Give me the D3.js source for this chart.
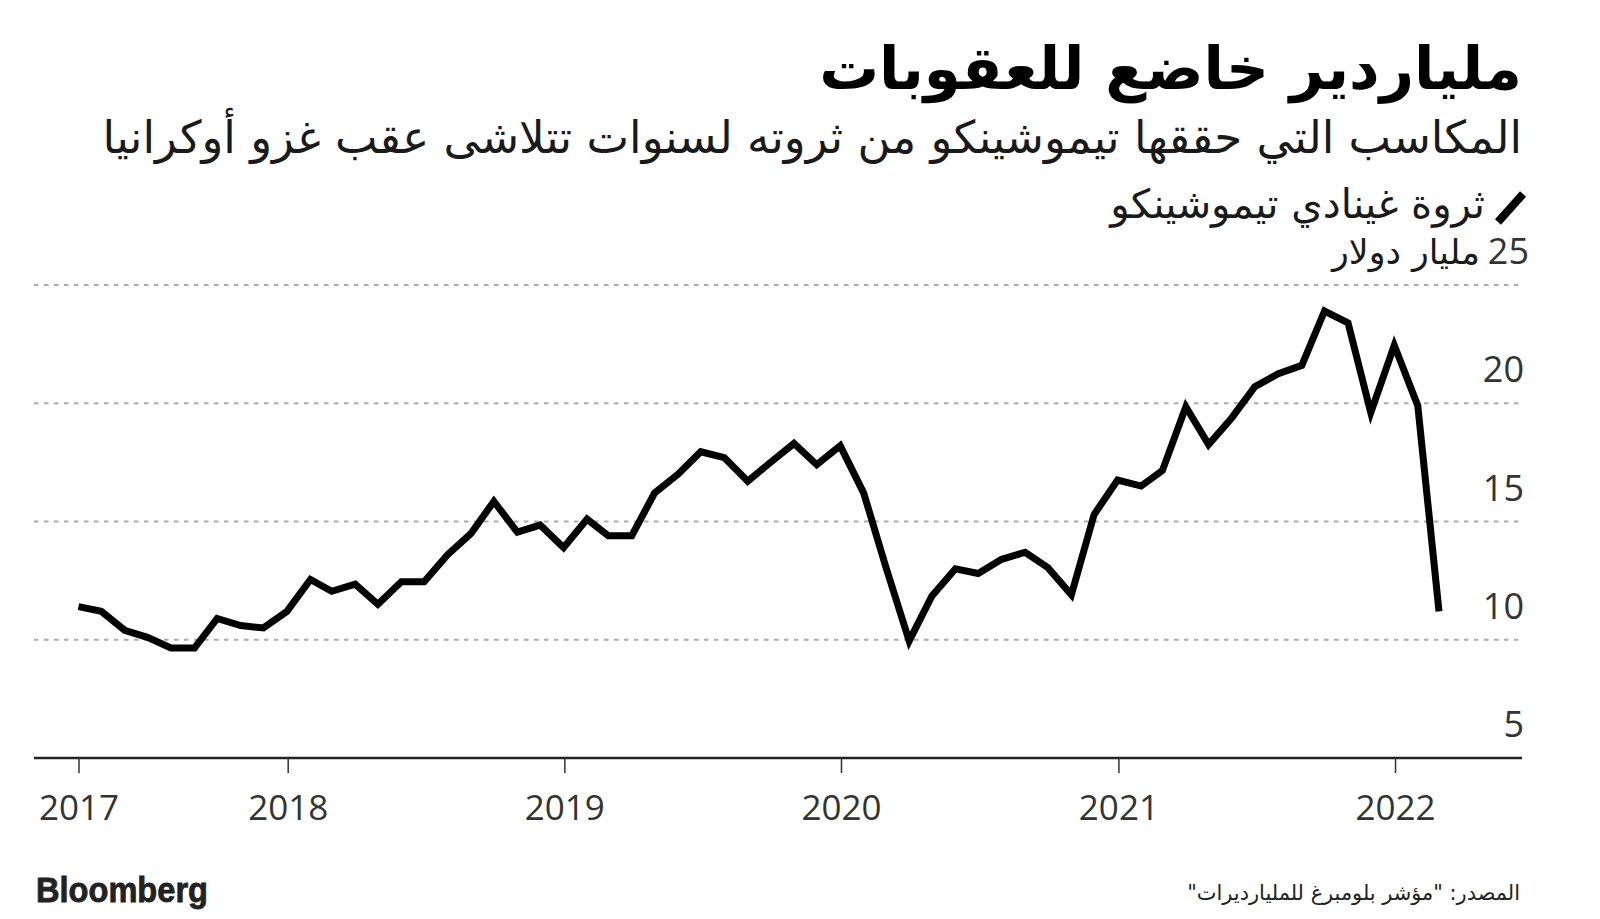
<!DOCTYPE html>
<html>
<head>
<meta charset="utf-8">
<script src="https://cdn.jsdelivr.net/npm/d3@7"></script>
<style>
  body { margin: 0; background: #fff; }
  svg { display: block; }
  .ar { font-family: "DejaVu Sans", sans-serif; }
  .num { font-family: "Open Sans", sans-serif; fill: #333; }
</style>
</head>
<body>
<div id="chart"></div>
<script>
// monthly net worth, billions of dollars
var months = [
  "2017-03-31","2017-04-30","2017-05-31","2017-06-30","2017-07-31","2017-08-31","2017-09-30","2017-10-31","2017-11-30","2017-12-31",
  "2018-01-31","2018-02-28","2018-03-31","2018-04-30","2018-05-31","2018-06-30","2018-07-31","2018-08-31","2018-09-30","2018-10-31","2018-11-30","2018-12-31",
  "2019-01-31","2019-02-28","2019-03-31","2019-04-30","2019-05-31","2019-06-30","2019-07-31","2019-08-31","2019-09-30","2019-10-31","2019-11-30","2019-12-31",
  "2020-01-31","2020-02-29","2020-03-31","2020-04-30","2020-05-31","2020-06-30","2020-07-31","2020-08-31","2020-09-30","2020-10-31","2020-11-30","2020-12-31",
  "2021-01-31","2021-02-28","2021-03-31","2021-04-30","2021-05-31","2021-06-30","2021-07-31","2021-08-31","2021-09-30","2021-10-31","2021-11-30","2021-12-31",
  "2022-01-31","2022-02-28"
];
var wealth = [
  11.4, 11.2, 10.4, 10.1, 9.65, 9.65, 10.9, 10.6, 10.5, 11.2,
  12.55, 12.05, 12.35, 11.5, 12.45, 12.45, 13.6, 14.5, 15.85, 14.55, 14.85, 13.9,
  15.1, 14.4, 14.4, 16.2, 17.0, 17.95, 17.7, 16.7, 17.5, 18.3, 17.4, 18.2,
  16.2, 13.1, 9.95, 11.85, 13.0, 12.8, 13.4, 13.7, 13.05, 11.9, 15.3, 16.75,
  16.5, 17.15, 19.85, 18.25, 19.4, 20.7, 21.25, 21.6, 23.9, 23.4, 19.6, 22.45,
  19.9, 11.2
];
var yTicks = [5, 10, 15, 20, 25];
var xTickDates = ["2017-03-31", "2018-01-01", "2019-01-01", "2020-01-01", "2021-01-01", "2022-01-01"];
var xTickLabels = ["2017", "2018", "2019", "2020", "2021", "2022"];

var title = "ملياردير خاضع للعقوبات";
var subtitle = "المكاسب التي حققها تيموشينكو من ثروته لسنوات تتلاشى عقب غزو أوكرانيا";
var legendText = "ثروة غينادي تيموشينكو";
var unitText = "مليار دولار";
var sourceText = "المصدر: \"مؤشر بلومبرغ للمليارديرات\"";

var W = 1600, H = 919;
var left = 34, right = 1522;
var parse = d3.timeParse("%Y-%m-%d");
var data = months.map(function(m, i) { return {date: parse(m), v: wealth[i]}; });

var svg = d3.select("#chart").append("svg")
    .attr("width", W)
    .attr("height", H);

var x = d3.scaleTime()
    .domain([parse(months[0]), parse(months[months.length - 1])])
    .range([78.5, 1439]);

var y = d3.scaleLinear()
    .domain([5, 25])
    .range([758, 285]);

// fit an rtl string to a given right edge and width
function arText(txt, xr, yb, size, weight, w) {
    var t = svg.append("text").attr("class", "ar")
        .attr("x", xr).attr("y", yb)
        .attr("direction", "rtl")
        .attr("text-anchor", "start")
        .attr("font-size", size)
        .attr("font-weight", weight)
        .attr("fill", "#111")
        .text(txt);
    if (w) {
        var cw = t.node().getComputedTextLength();
        t.attr("font-size", size * w / cw);
    }
    return t;
}

// title block
arText(title, 1522, 89, 62, "bold", 703).attr("fill", "#000");
arText(subtitle, 1522, 153, 40, "normal", 1420).attr("fill", "#1a1a1a");
arText(legendText, 1485, 218, 32, "normal", 375).attr("fill", "#1a1a1a");
svg.append("line")
    .attr("x1", 1498).attr("y1", 222)
    .attr("x2", 1523).attr("y2", 194)
    .attr("stroke", "#000").attr("stroke-width", 8);

// grid
svg.append("g").selectAll("line")
    .data(yTicks.filter(function(d) { return d > 5; }))
    .enter().append("line")
    .attr("x1", left).attr("x2", right)
    .attr("y1", function(d) { return y(d); })
    .attr("y2", function(d) { return y(d); })
    .attr("stroke", "#ababab")
    .attr("stroke-width", 2)
    .attr("stroke-dasharray", "4.5,5.5");

// y labels sit above the gridlines, on the right
svg.append("g").selectAll("text")
    .data(yTicks)
    .enter().append("text")
    .attr("class", "num")
    .attr("x", function(d) { return d === 25 ? 1529 : 1524; })
    .attr("y", function(d) { return y(d) - 21; })
    .attr("text-anchor", "end")
    .attr("font-size", 36)
    .text(function(d) { return d; });

// unit next to the top label
arText(unitText, 1480, y(25) - 21, 32, "normal", 148).attr("fill", "#1a1a1a");

// x axis
var xAxis = svg.append("g")
    .attr("transform", "translate(0," + y(5) + ")")
    .call(d3.axisBottom(x)
        .tickValues(xTickDates.map(parse))
        .tickSize(15)
        .tickSizeOuter(0)
        .tickPadding(22)
        .tickFormat(function(d, i) { return xTickLabels[i]; }));
xAxis.select(".domain").remove();
xAxis.insert("line", ":first-child")
    .attr("x1", left).attr("x2", right)
    .attr("stroke", "#222").attr("stroke-width", 2.5);
xAxis.selectAll(".tick line").attr("stroke", "#333").attr("stroke-width", 1.5);
xAxis.selectAll(".tick text")
    .attr("class", "num")
    .attr("font-size", 35)
    .attr("fill", "#333");

// the line
var valueLine = d3.line()
    .x(function(d) { return x(d.date); })
    .y(function(d) { return y(d.v); });

svg.append("path")
    .datum(data)
    .attr("d", valueLine)
    .attr("fill", "none")
    .attr("stroke", "#000")
    .attr("stroke-width", 7)
    .attr("stroke-linejoin", "miter");

// footer
svg.append("text")
    .attr("x", 36).attr("y", 902)
    .attr("font-family", "Liberation Sans, Arial, sans-serif")
    .attr("font-weight", "bold")
    .attr("font-size", 35)
    .attr("textLength", 172)
    .attr("lengthAdjust", "spacingAndGlyphs")
    .attr("stroke", "#222")
    .attr("stroke-width", 0.8)
    .attr("fill", "#222")
    .text("Bloomberg");

arText(sourceText, 1520, 900, 20, "normal", 333).attr("fill", "#222");
</script>
</body>
</html>
